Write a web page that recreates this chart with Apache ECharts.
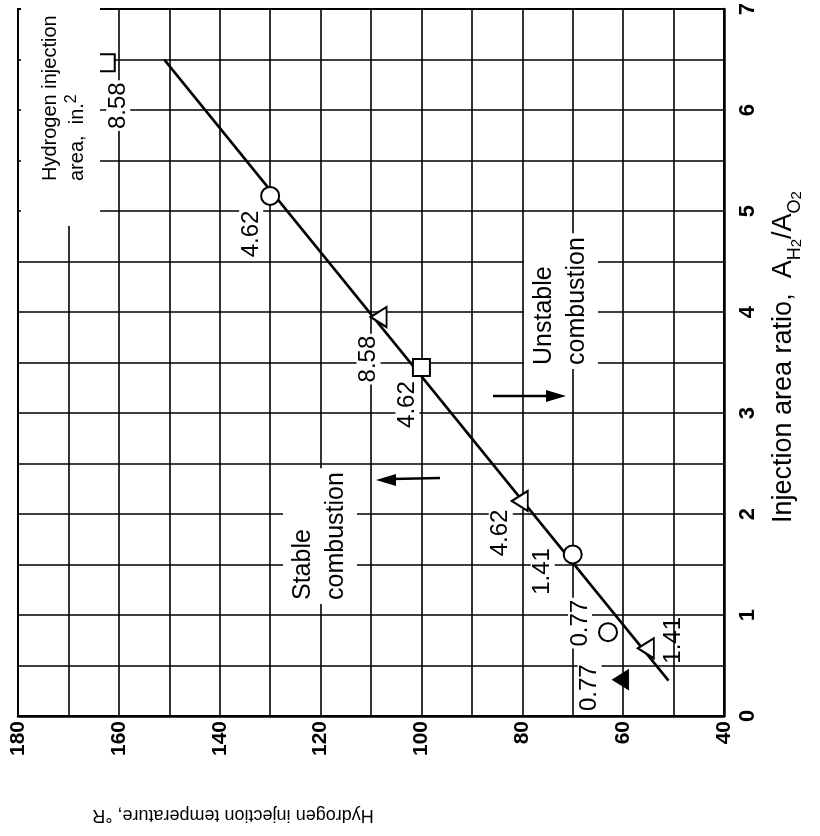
<!DOCTYPE html>
<html>
<head>
<meta charset="utf-8">
<title>Injection area ratio vs hydrogen injection temperature</title>
<script src="https://cdn.jsdelivr.net/npm/echarts@6/dist/echarts.min.js"></script>
<style>
  html, body { margin: 0; padding: 0; background: #fff; }
  #chart { width: 820px; height: 836px; }
</style>
</head>
<body>
<div id="chart"></div>
<script>
// data: temperature in deg R, area ratio A_H2/A_O2
const circleTemp = [130, 70, 63];
const circleRatio = [5.15, 1.6, 0.83];
const circleArea = ['4.62', '1.41', '0.77'];

const squareTemp = [162.5, 100];
const squareRatio = [6.47, 3.45];
const squareArea = ['8.58', '4.62'];

const triTemp = [108.5, 80.5, 55.5];
const triRatio = [3.95, 2.13, 0.67];
const triArea = ['8.58', '4.62', '1.41'];

const solidTemp = [60.5];
const solidRatio = [0.36];
const solidArea = ['0.77'];

// stability boundary
const boundaryTemp = [151, 51];
const boundaryRatio = [6.5, 0.35];

// where each value label sits relative to its marker, screen px (right, down)
const circleOffset = [[-19, 38], [-30, 17], [-28, -9]];
const squareOffset = [[12, 43], [-14, 37]];
const triOffset = [[-10, 42], [-19, 32], [28, -8]];
const solidOffset = [[-31, 8]];

const SANS = '"Liberation Sans", Arial, sans-serif';

// labels are turned 90deg, so the offset is given in the turned frame
function points(xs, ys, names, offsets, bare) {
  return xs.map((x, i) => {
    const label = { formatter: names[i], offset: [-offsets[i][1], offsets[i][0]] };
    if (bare && bare[i]) label.backgroundColor = 'transparent';
    return { value: [x, ys[i]], label };
  });
}

const markLabel = {
  show: true,
  position: 'inside',
  rotate: 90,
  fontFamily: SANS,
  fontSize: 24,
  color: '#000',
  backgroundColor: '#fff',
  padding: [0, 2]
};

const chart = echarts.init(document.getElementById('chart'));

const option = {
  animation: false,
  backgroundColor: '#fff',
  grid: { left: 18, right: 96, top: 4, bottom: 120, show: true, borderColor: '#000', borderWidth: 2 },
  xAxis: {
    type: 'value',
    inverse: true,
    min: 40,
    max: 180,
    interval: 10,
    position: 'bottom',
    axisLine: { show: true, lineStyle: { color: '#000', width: 2.5 } },
    axisTick: { show: false },
    splitLine: { show: true, lineStyle: { color: '#000', width: 1.6 } },
    axisLabel: {
      rotate: 90,
      margin: 5,
      fontFamily: SANS,
      fontWeight: 'bold',
      fontSize: 21,
      color: '#000',
      formatter: v => (v % 20 === 0 ? String(v) : '')
    }
  },
  yAxis: {
    type: 'value',
    min: 0,
    max: 7,
    interval: 0.5,
    position: 'right',
    axisLine: { show: true, lineStyle: { color: '#000', width: 2.5 } },
    axisTick: { show: false },
    splitLine: { show: true, lineStyle: { color: '#000', width: 1.6 } },
    axisLabel: {
      rotate: 90,
      margin: 13,
      fontFamily: SANS,
      fontWeight: 'bold',
      fontSize: 22,
      color: '#000',
      formatter: v => (Number.isInteger(v) ? String(v) : '')
    }
  },
  series: [
    {
      type: 'line',
      data: boundaryTemp.map((t, i) => [t, boundaryRatio[i]]),
      showSymbol: false,
      lineStyle: { color: '#000', width: 2.6 },
      z: 2
    },
    {
      type: 'scatter',
      symbol: 'circle',
      symbolSize: 18,
      itemStyle: { color: '#fff', borderColor: '#000', borderWidth: 2, opacity: 1 },
      label: markLabel,
      data: points(circleTemp, circleRatio, circleArea, circleOffset),
      z: 3
    },
    {
      type: 'scatter',
      symbol: 'rect',
      symbolSize: 17,
      itemStyle: { color: '#fff', borderColor: '#000', borderWidth: 2, opacity: 1 },
      label: markLabel,
      data: points(squareTemp, squareRatio, squareArea, squareOffset),
      z: 3
    },
    {
      type: 'scatter',
      symbol: 'triangle',
      symbolSize: [20, 16],
      symbolRotate: 90,
      itemStyle: { color: '#fff', borderColor: '#000', borderWidth: 2, opacity: 1 },
      label: markLabel,
      data: points(triTemp, triRatio, triArea, triOffset, [false, false, true]),
      z: 3
    },
    {
      type: 'scatter',
      symbol: 'triangle',
      symbolSize: [20, 16],
      symbolRotate: 90,
      itemStyle: { color: '#000', borderColor: '#000', borderWidth: 1, opacity: 1 },
      label: markLabel,
      data: points(solidTemp, solidRatio, solidArea, solidOffset),
      z: 3
    }
  ],
  graphic: [
    // key box, top left
    { type: 'rect', z: 40, shape: { x: 21, y: 5, width: 79, height: 221 }, style: { fill: '#fff' } },
    {
      type: 'text', z: 41, x: 64, y: 181, rotation: Math.PI / 2,
      style: {
        text: 'Hydrogen injection\narea,  in.{sup|2}',
        font: '20px ' + SANS,
        fill: '#000',
        lineHeight: 27,
        align: 'left', textAlign: 'left',
        verticalAlign: 'middle', textVerticalAlign: 'middle',
        rich: { sup: { fontSize: 16, fontFamily: SANS, verticalAlign: 'top', lineHeight: 16 } }
      }
    },
    // stable / unstable notes
    {
      type: 'text', z: 41, x: 320, y: 604, rotation: Math.PI / 2,
      style: {
        text: 'Stable\ncombustion',
        font: '25px ' + SANS,
        fill: '#000',
        lineHeight: 33,
        align: 'left', textAlign: 'left',
        verticalAlign: 'middle', textVerticalAlign: 'middle',
        backgroundColor: '#fff',
        padding: [4, 4, 4, 4]
      }
    },
    {
      type: 'text', z: 41, x: 561, y: 369, rotation: Math.PI / 2,
      style: {
        text: 'Unstable\ncombustion',
        font: '25px ' + SANS,
        fill: '#000',
        lineHeight: 33,
        align: 'left', textAlign: 'left',
        verticalAlign: 'middle', textVerticalAlign: 'middle',
        backgroundColor: '#fff',
        padding: [4, 4, 4, 4]
      }
    },
    // arrows
    { type: 'line', z: 41, shape: { x1: 440, y1: 478, x2: 392, y2: 479 }, style: { stroke: '#000', lineWidth: 2.5 } },
    { type: 'polygon', z: 41, shape: { points: [[376, 480], [396, 474], [396, 486]] }, style: { fill: '#000' } },
    { type: 'line', z: 41, shape: { x1: 493, y1: 396, x2: 550, y2: 396 }, style: { stroke: '#000', lineWidth: 2.5 } },
    { type: 'polygon', z: 41, shape: { points: [[566, 396], [546, 390], [546, 402]] }, style: { fill: '#000' } },
    // axis titles
    {
      type: 'text', z: 41, x: 784, y: 523, rotation: Math.PI / 2,
      style: {
        text: 'Injection area ratio,  A{s1|H}{s2|2}/A{s1|O}{s2|2}',
        font: '27px ' + SANS,
        fill: '#000',
        lineHeight: 40,
        align: 'left', textAlign: 'left',
        verticalAlign: 'middle', textVerticalAlign: 'middle',
        rich: {
          s1: { fontSize: 18, fontFamily: SANS, lineHeight: 24, verticalAlign: 'bottom' },
          s2: { fontSize: 15, fontFamily: SANS, lineHeight: 12, verticalAlign: 'bottom' }
        }
      }
    },
    {
      type: 'text', z: 41, x: 233, y: 815, rotation: Math.PI,
      style: {
        text: 'Hydrogen injection temperature, \u00b0R',
        font: '18px ' + SANS,
        fill: '#000',
        align: 'center', textAlign: 'center',
        verticalAlign: 'middle', textVerticalAlign: 'middle'
      }
    }
  ]
};

chart.setOption(option);
window.addEventListener('resize', () => chart.resize());
</script>
</body>
</html>
